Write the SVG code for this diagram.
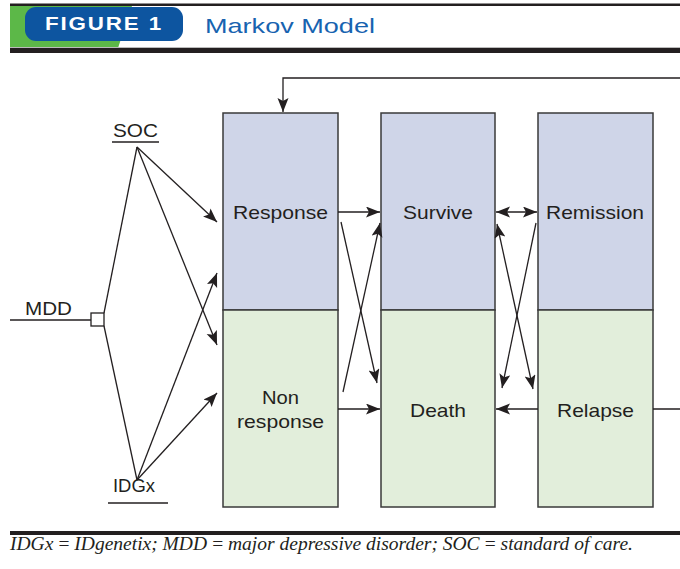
<svg xmlns="http://www.w3.org/2000/svg" width="680" height="569" viewBox="0 0 680 569">
  <style>
    .lbl { font-family: "Liberation Sans", Arial, sans-serif; font-size: 18.5px; fill: #231f20; }
    .up { fill: #cfd5e8; stroke: #3a3a3a; stroke-width: 1.5; }
    .dn { fill: #e2eedb; stroke: #3a3a3a; stroke-width: 1.5; }
    .ln { fill: none; stroke: #231f20; stroke-width: 1.3; }
    .arr { marker-end: url(#head); }
    .arr2 { marker-start: url(#head); marker-end: url(#head); }
  </style>
  <defs>
    <marker id="head" markerUnits="userSpaceOnUse" markerWidth="16" markerHeight="12" refX="14" refY="5.5" orient="auto-start-reverse">
      <path d="M0,0 L14,5.5 L0,11 L3,5.5 z" fill="#231f20"/>
    </marker>
  </defs>

  <rect width="680" height="569" fill="#ffffff"/>

  <!-- header band -->
  <g id="header">
    <rect x="10" y="3.5" width="670" height="2.5" fill="#231f20"/>
    <path d="M10,6 H132 L118,48 H10 z" fill="#5cb848"/>
    <rect x="25" y="7" width="158" height="34" rx="11" fill="#0d55a0"/>
    <text x="45" y="29.5" font-family="Liberation Sans, Arial, sans-serif" font-weight="bold" font-size="18" letter-spacing="1.5" fill="#ffffff" textLength="118" lengthAdjust="spacingAndGlyphs">FIGURE 1</text>
    <text x="205" y="33" font-family="Liberation Sans, Arial, sans-serif" font-size="21" fill="#1763b0" textLength="170" lengthAdjust="spacingAndGlyphs">Markov Model</text>
    <rect x="10" y="47" width="670" height="1" fill="#bbbbbb"/>
    <rect x="10" y="48" width="670" height="5" fill="#231f20"/>
  </g>

  <!-- decision tree entry -->
  <g id="mdd">
    <line class="ln" x1="10" y1="320" x2="91" y2="320"/>
    <rect x="91" y="313" width="13" height="13" fill="#ffffff" stroke="#231f20" stroke-width="1.3"/>
    <text class="lbl" x="25" y="315" textLength="47" lengthAdjust="spacingAndGlyphs">MDD</text>
  </g>
  <g id="soc">
    <text class="lbl" x="113" y="137" textLength="45" lengthAdjust="spacingAndGlyphs">SOC</text>
    <line class="ln" x1="112" y1="142" x2="159" y2="142"/>
  </g>
  <g id="idgx">
    <text class="lbl" x="113" y="492" textLength="42" lengthAdjust="spacingAndGlyphs">IDGx</text>
    <line class="ln" x1="108" y1="503" x2="168" y2="503"/>
  </g>

  <!-- health states -->
  <g id="response">
    <rect class="up" x="223" y="113" width="115" height="197"/>
    <text class="lbl" x="233" y="219" textLength="95" lengthAdjust="spacingAndGlyphs">Response</text>
  </g>
  <g id="nonresponse">
    <rect class="dn" x="223" y="310" width="115" height="197"/>
    <text class="lbl" x="262" y="404" textLength="37" lengthAdjust="spacingAndGlyphs">Non</text>
    <text class="lbl" x="237" y="428" textLength="87" lengthAdjust="spacingAndGlyphs">response</text>
  </g>
  <g id="survive">
    <rect class="up" x="381" y="113" width="114" height="197"/>
    <text class="lbl" x="403" y="219" textLength="70" lengthAdjust="spacingAndGlyphs">Survive</text>
  </g>
  <g id="death">
    <rect class="dn" x="381" y="310" width="114" height="197"/>
    <text class="lbl" x="410" y="417" textLength="56" lengthAdjust="spacingAndGlyphs">Death</text>
  </g>
  <g id="remission">
    <rect class="up" x="538" y="113" width="115" height="197"/>
    <text class="lbl" x="546" y="219" textLength="98" lengthAdjust="spacingAndGlyphs">Remission</text>
  </g>
  <g id="relapse">
    <rect class="dn" x="538" y="310" width="115" height="197"/>
    <text class="lbl" x="557" y="417" textLength="77" lengthAdjust="spacingAndGlyphs">Relapse</text>
  </g>

  <!-- transitions -->
  <g id="connectors">
    <line class="ln" x1="104" y1="313" x2="137" y2="147"/>
    <line class="ln" x1="104" y1="326" x2="137" y2="480"/>
    <line class="ln arr" x1="137" y1="147" x2="217" y2="222"/>
    <line class="ln arr" x1="137" y1="147" x2="217" y2="345"/>
    <line class="ln arr" x1="137" y1="480" x2="217" y2="273"/>
    <line class="ln arr" x1="137" y1="480" x2="217" y2="393"/>

    <line class="ln arr" x1="338" y1="212" x2="380" y2="212"/>
    <line class="ln arr" x1="341" y1="222" x2="377" y2="383"/>
    <line class="ln arr" x1="343" y1="392" x2="380" y2="223"/>
    <line class="ln arr" x1="338" y1="409" x2="380" y2="409"/>

    <line class="ln arr2" x1="496" y1="212" x2="537" y2="212"/>
    <line class="ln arr2" x1="497" y1="224" x2="533" y2="389"/>
    <line class="ln arr" x1="536" y1="223" x2="502" y2="388"/>
    <line class="ln arr" x1="538" y1="409" x2="496" y2="409"/>

    <path class="ln arr" d="M653,409 H690 V78 H283 V112"/>
  </g>

  <!-- footnote -->
  <g id="footnote">
    <rect x="10" y="531" width="670" height="4" fill="#231f20"/>
    <text x="10" y="550" font-family="Liberation Serif, Times New Roman, serif" font-style="italic" font-size="18" fill="#231f20" textLength="623" lengthAdjust="spacingAndGlyphs">IDGx&#8201;=&#8201;IDgenetix; MDD&#8201;=&#8201;major depressive disorder; SOC&#8201;=&#8201;standard of care.</text>
  </g>
</svg>
